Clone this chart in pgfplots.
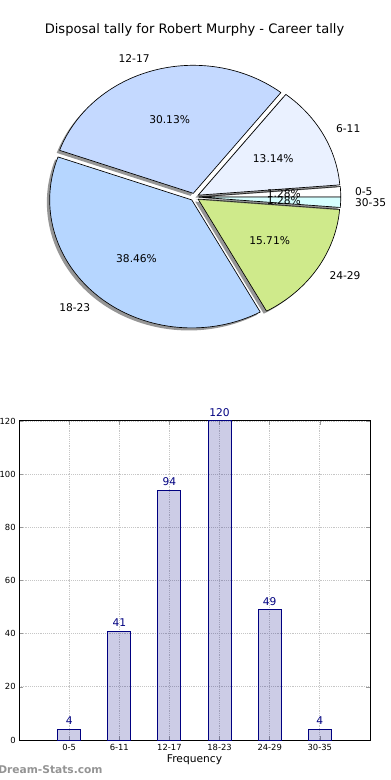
\documentclass[border=0pt]{standalone}
\usepackage{fontspec}
\setmainfont{DejaVu Sans}
\usepackage{pgfplots}
\usepackage{pgfplotstable}
\pgfplotsset{compat=1.18}
\pgfkeys{/pgf/number format/assume math mode=true}

\definecolor{pc0}{HTML}{FFFFFF}
\definecolor{pc1}{HTML}{EAF1FF}
\definecolor{pc2}{HTML}{C4D9FF}
\definecolor{pc3}{HTML}{B6D6FF}
\definecolor{pc4}{HTML}{CFEA8B}
\definecolor{pc5}{HTML}{D6FFFF}
\definecolor{navy}{HTML}{000080}

\pgfplotstableread{
label value
0-5 4
6-11 41
12-17 94
18-23 120
24-29 49
30-35 4
}\piedata

% precompute slice geometry from the table
\gdef\pieTot{0}
\foreach \k in {0,...,5}{%
  \pgfplotstablegetelem{\k}{value}\of\piedata
  \pgfmathsetmacro\pieTmp{\pieTot+\pgfplotsretval}\global\let\pieTot\pieTmp
}
\gdef\pieCum{0}
\foreach \k in {0,...,5}{%
  \pgfplotstablegetelem{\k}{value}\of\piedata \let\pieV\pgfplotsretval
  \pgfplotstablegetelem{\k}{label}\of\piedata
  \expandafter\xdef\csname pieLab\k\endcsname{\pgfplotsretval}
  \pgfmathsetmacro\pieA{360*(\pieCum/\pieTot)}
  \pgfmathsetmacro\pieB{360*((\pieCum+\pieV)/\pieTot)}
  \pgfmathsetmacro\pieM{(\pieA+\pieB)/2}
  \expandafter\xdef\csname pieA\k\endcsname{\pieA}
  \expandafter\xdef\csname pieB\k\endcsname{\pieB}
  \pgfmathsetmacro\pieT{0.03*cos(\pieM)}\expandafter\xdef\csname pieOX\k\endcsname{\pieT}
  \pgfmathsetmacro\pieT{0.03*sin(\pieM)}\expandafter\xdef\csname pieOY\k\endcsname{\pieT}
  \pgfmathsetmacro\pieT{0.03*cos(\pieM)-0.02}\expandafter\xdef\csname pieSX\k\endcsname{\pieT}
  \pgfmathsetmacro\pieT{0.03*sin(\pieM)-0.02}\expandafter\xdef\csname pieSY\k\endcsname{\pieT}
  \pgfmathsetmacro\pieT{1.13*cos(\pieM)}\expandafter\xdef\csname pieLX\k\endcsname{\pieT}
  \pgfmathsetmacro\pieT{1.13*sin(\pieM)}\expandafter\xdef\csname pieLY\k\endcsname{\pieT}
  \pgfmathsetmacro\pieT{0.63*cos(\pieM)}\expandafter\xdef\csname piePX\k\endcsname{\pieT}
  \pgfmathsetmacro\pieT{0.63*sin(\pieM)}\expandafter\xdef\csname piePY\k\endcsname{\pieT}
  \pgfmathsetmacro\pieT{(100*\pieV)/\pieTot}\expandafter\xdef\csname piePct\k\endcsname{\pieT}
  \pgfmathsetmacro\pieT{cos(\pieM)}
  \ifdim\pieT pt<0pt \expandafter\xdef\csname pieAnc\k\endcsname{east}\else\expandafter\xdef\csname pieAnc\k\endcsname{west}\fi
  \pgfmathsetmacro\pieT{\pieCum+\pieV}\global\let\pieCum\pieT
}

\begin{document}
\begin{tikzpicture}
\path[use as bounding box] (0,0) rectangle (292.5pt,585pt);

% ---------------- Pie chart ----------------
\begin{axis}[
  at={(145.875pt,437.25pt)}, anchor=center,
  hide axis, clip=false,
  x=106.5pt, y=96pt,
  xmin=-1.3, xmax=1.3, ymin=-1.3, ymax=1.3,
]
\pgfplotsinvokeforeach{0,...,5}{
  \fill[black!75,opacity=0.55] (axis cs:\csname pieSX#1\endcsname,\csname pieSY#1\endcsname) -- ++(\csname pieA#1\endcsname:106.5pt and 96pt)
    arc[start angle=\csname pieA#1\endcsname, end angle=\csname pieB#1\endcsname, x radius=106.5pt, y radius=96pt] -- cycle;
  \filldraw[fill=pc#1, draw=black, line width=0.5pt, line join=round] (axis cs:\csname pieOX#1\endcsname,\csname pieOY#1\endcsname) -- ++(\csname pieA#1\endcsname:106.5pt and 96pt)
    arc[start angle=\csname pieA#1\endcsname, end angle=\csname pieB#1\endcsname, x radius=106.5pt, y radius=96pt] -- cycle;
}
\pgfplotsinvokeforeach{0,...,5}{
  \node[anchor=\csname pieAnc#1\endcsname, font=\fontsize{8}{9}\selectfont, inner sep=0pt] at (axis cs:\csname pieLX#1\endcsname,\csname pieLY#1\endcsname) {\csname pieLab#1\endcsname};
  \node[font=\fontsize{8}{9}\selectfont, inner sep=0pt] at (axis cs:\csname piePX#1\endcsname,\csname piePY#1\endcsname)
    {\pgfmathprintnumber[fixed,precision=2,fixed zerofill]{\csname piePct#1\endcsname}\%};
}
\end{axis}

\node[font=\fontsize{9.8}{11}\selectfont] at (145.875pt,562.5pt) {Disposal tally for Robert Murphy - Career tally};

% ---------------- Bar chart ----------------
\begin{axis}[
  at={(14.25pt,30pt)}, anchor=south west,
  scale only axis, width=263.25pt, height=239.25pt,
  xmin=-1, xmax=6, ymin=0, ymax=120,
  xtick={0,...,5},
  xticklabels={0-5,6-11,12-17,18-23,24-29,30-35},
  ytick={0,20,...,120},
  tick pos=both, tick align=inside,
  major tick length=3pt,
  tick style={gray!80, line width=0.5pt},
  grid=major,
  grid style={densely dotted, gray!45, line width=0.7pt},
  axis line style={black, line width=0.75pt},
  tick label style={font=\fontsize{6.3}{7}\selectfont},
  yticklabel style={xshift=1pt},
  xlabel={Frequency},
  xlabel style={font=\fontsize{8}{9}\selectfont, yshift=4pt},
  clip=false,
]
\addplot[ybar, bar width=0.46, draw=navy, line width=0.75pt, fill=navy, fill opacity=0.2,
  nodes near coords,
  every node near coord/.style={text=navy, text opacity=1, font=\fontsize{8}{9}\selectfont, inner sep=1pt, anchor=south, yshift=2pt}]
  table[x expr=\coordindex, y=value] {\piedata};
\end{axis}

\node[anchor=west, font=\bfseries\fontsize{8}{10}\selectfont, text=black!42, inner sep=0pt] at (-1.5pt,7.5pt) {Dream-Stats.com};
\end{tikzpicture}
\end{document}
